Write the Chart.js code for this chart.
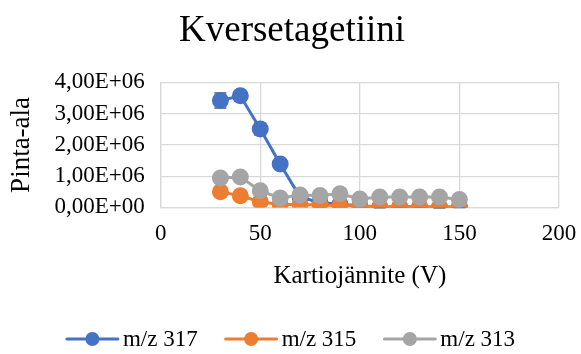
<!DOCTYPE html>
<html>
<head>
<meta charset="utf-8">
<script src="https://cdn.jsdelivr.net/npm/chart.js@4/dist/chart.umd.min.js"></script>
<style>
  html, body { margin: 0; padding: 0; background: #fff; }
  #wrap { width: 581px; height: 354px; }
</style>
</head>
<body>
<div id="wrap"><canvas id="c" width="581" height="354"></canvas></div>
<script>
// Cone voltage (V)
const voltages = [30, 40, 50, 60, 70, 80, 90, 100, 110, 120, 130, 140, 150];
// Peak areas per ion
const mz317 = [3.42e6, 3.57e6, 2.51e6, 1.39e6, 0.33e6, 0.16e6, 0.10e6, 0.05e6, 0.00e6, 0.02e6, 0.02e6, 0.00e6, 0.02e6];
const mz315 = [0.50e6, 0.37e6, 0.18e6, 0.09e6, 0.09e6, 0.08e6, 0.05e6, 0.05e6, 0.02e6, 0.02e6, 0.02e6, 0.01e6, 0.01e6];
const mz313 = [0.94e6, 0.97e6, 0.53e6, 0.30e6, 0.40e6, 0.38e6, 0.44e6, 0.27e6, 0.33e6, 0.33e6, 0.33e6, 0.33e6, 0.25e6];
// Standard deviations (error bars)
const err317 = [0.24e6, 0.05e6, 0.19e6, 0.03e6, 0.02e6, 0.01e6, 0.01e6, 0.01e6, 0.01e6, 0.01e6, 0.01e6, 0.01e6, 0.01e6];
const err315 = [0.03e6, 0.02e6, 0.01e6, 0.01e6, 0.01e6, 0.01e6, 0.01e6, 0.01e6, 0.01e6, 0.01e6, 0.01e6, 0.01e6, 0.01e6];
const err313 = [0.04e6, 0.03e6, 0.02e6, 0.02e6, 0.02e6, 0.02e6, 0.02e6, 0.02e6, 0.02e6, 0.02e6, 0.02e6, 0.02e6, 0.02e6];
const seriesNames = ['m/z 317', 'm/z 315', 'm/z 313'];
const yTicks = [0, 1e6, 2e6, 3e6, 4e6];

const SERIF = '"Liberation Serif", "Times New Roman", serif';
const colors = ['#4472C4', '#ED7D31', '#A5A5A5'];
const seriesData = [mz317, mz315, mz313];
const seriesErr = [err317, err315, err313];

function pts(ys) { return voltages.map((x, i) => ({ x: x, y: ys[i] })); }

// Vertical error bars, drawn beneath the markers
const errorBars = {
  id: 'errorBars',
  beforeDatasetsDraw(chart) {
    const ctx = chart.ctx;
    const xs = chart.scales.x, ys = chart.scales.y;
    ctx.save();
    ctx.strokeStyle = '#595959';
    ctx.lineWidth = 1.5;
    chart.data.datasets.forEach((ds, di) => {
      ds.data.forEach((p, i) => {
        const e = seriesErr[di][i];
        const px = xs.getPixelForValue(p.x);
        const top = ys.getPixelForValue(p.y + e);
        const bot = ys.getPixelForValue(p.y - e);
        ctx.beginPath();
        ctx.moveTo(px, top); ctx.lineTo(px, bot);
        ctx.moveTo(px - 6, top); ctx.lineTo(px + 6, top);
        ctx.moveTo(px - 6, bot); ctx.lineTo(px + 6, bot);
        ctx.stroke();
      });
    });
    ctx.restore();
  }
};

// Bottom legend: line-with-dot marker followed by the series name
const lineLegend = {
  id: 'lineLegend',
  afterDraw(chart) {
    const ctx = chart.ctx;
    const font = '23px ' + SERIF;
    const markW = 53, gapText = 4, gapItem = 27, cy = 339;
    ctx.save();
    ctx.font = font;
    const widths = chart.data.datasets.map(ds => markW + gapText + ctx.measureText(ds.label).width);
    const total = widths.reduce((a, b) => a + b, 0) + gapItem * (widths.length - 1);
    let x = (chart.width - total) / 2;
    chart.data.datasets.forEach((ds, i) => {
      const c = ds.borderColor;
      ctx.strokeStyle = c; ctx.lineWidth = 3; ctx.lineCap = 'round';
      ctx.beginPath(); ctx.moveTo(x + 1, cy); ctx.lineTo(x + markW - 1, cy); ctx.stroke();
      ctx.fillStyle = c;
      ctx.beginPath(); ctx.arc(x + markW / 2, cy, 7, 0, Math.PI * 2); ctx.fill();
      ctx.fillStyle = '#000';
      ctx.textBaseline = 'middle';
      ctx.textAlign = 'left';
      ctx.fillText(ds.label, x + markW + gapText, cy + 1);
      x += widths[i] + gapItem;
    });
    ctx.restore();
  }
};

new Chart(document.getElementById('c'), {
  type: 'scatter',
  data: {
    datasets: seriesData.map((ys, i) => ({
      label: seriesNames[i],
      data: pts(ys),
      showLine: true,
      borderColor: colors[i],
      backgroundColor: colors[i],
      borderWidth: 3,
      pointRadius: 7,
      pointHoverRadius: 7,
      pointStyle: 'circle',
      order: 2 - i
    }))
  },
  options: {
    responsive: false,
    animation: false,
    layout: { padding: { left: 3, right: 0, top: 0, bottom: 63 } },
    plugins: {
      tooltip: { enabled: false },
      legend: { display: false },
      title: {
        display: true,
        text: 'Kversetagetiini',
        color: '#000',
        font: { family: SERIF, size: 37, weight: 'normal' },
        padding: { top: 9, bottom: 29 }
      }
    },
    scales: {
      x: {
        type: 'linear',
        min: 0, max: 200,
        afterFit(scale) { scale.paddingRight = 22; },
        ticks: { stepSize: 50, color: '#000', font: { family: SERIF, size: 23 }, padding: 13 },
        grid: { color: '#d9d9d9', lineWidth: 1.3, drawTicks: false },
        border: { color: '#d9d9d9', width: 1.3 },
        title: { display: true, text: 'Kartiojännite (V)', color: '#000', font: { family: SERIF, size: 25 }, padding: { top: 0, bottom: 0 } }
      },
      y: {
        min: 0, max: 4e6,
        afterBuildTicks(axis) { axis.ticks = yTicks.map(v => ({ value: v })); },
        ticks: {
          color: '#000',
          autoSkip: false,
          font: { family: SERIF, size: 23 },
          padding: 16,
          callback(v) {
            if (v === 0) return '0,00E+00';
            return (v / 1e6).toFixed(2).replace('.', ',') + 'E+06';
          }
        },
        grid: { color: '#d9d9d9', lineWidth: 1.3, drawTicks: false },
        border: { color: '#d9d9d9', width: 1.3 },
        title: { display: true, text: 'Pinta-ala', color: '#000', font: { family: SERIF, size: 27 }, padding: { top: 3, bottom: 0 } }
      }
    }
  },
  plugins: [errorBars, lineLegend]
});
</script>
</body>
</html>
